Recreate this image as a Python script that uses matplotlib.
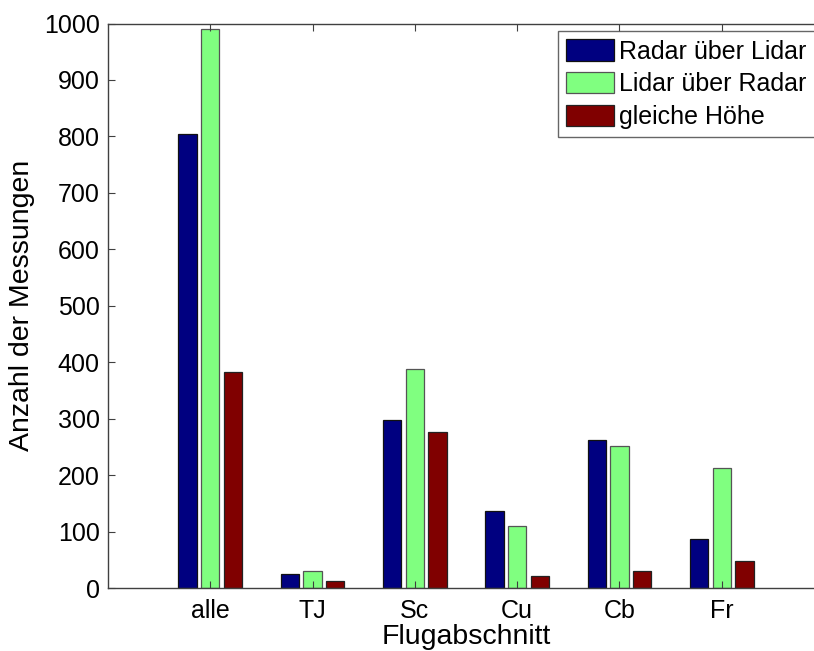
import numpy as np
import matplotlib
matplotlib.use('Agg')
import matplotlib.pyplot as plt

plt.rcParams['font.family'] = ['Liberation Sans', 'DejaVu Sans']

# Flugabschnitte und Anzahl der Messungen je Fall
abschnitte = ['alle', 'TJ', 'Sc', 'Cu', 'Cb', 'Fr']
radar_ueber_lidar = [804, 25, 297, 136, 262, 87]
lidar_ueber_radar = [990, 31, 388, 110, 252, 212]
gleiche_hoehe = [383, 12, 276, 22, 30, 48]

serien = [radar_ueber_lidar, lidar_ueber_radar, gleiche_hoehe]
namen = ['Radar über Lidar', 'Lidar über Radar', 'gleiche Höhe']
farben = ['#000080', '#80ff80', '#800000']
kanten = ['#111111', '#555555', '#222222']

fig = plt.figure(figsize=(8.14, 6.51), dpi=100)
ax = fig.add_axes([108 / 814, 63 / 651, 716 / 814, 564.5 / 651])

x = np.arange(1, len(abschnitte) + 1)
# gruppierte Balken wie bar(...,'grouped') in MATLAB
n = len(serien)
gruppe = n / (n + 1.5)
abstand = gruppe / n
breite = 0.8 * abstand
for i, (werte, name, farbe) in enumerate(zip(serien, namen, farben)):
    versatz = (i - (n - 1) / 2) * abstand
    ax.bar(x + versatz, werte, breite, color=farbe, edgecolor=kanten[i],
           linewidth=0.9, label=name)

ax.set_xlim(0, 7)
ax.set_ylim(0, 1000)
ax.set_xticks(x)
ax.set_xticklabels(abschnitte)
ax.set_yticks(np.arange(0, 1001, 100))

for s in ax.spines.values():
    s.set_color('#404040')
    s.set_linewidth(1.0)

ax.tick_params(axis='both', direction='in', length=5, width=0.8, color='#404040',
               labelsize=18, top=True, right=True)
ax.tick_params(axis='x', pad=8)
ax.tick_params(axis='y', pad=6)

ax.set_xlabel('Flugabschnitt', fontsize=20.5)
ax.xaxis.set_label_coords(0.5, -0.064)
ax.xaxis.label.set_va('top')
ax.set_ylabel('Anzahl der Messungen', fontsize=20.5, labelpad=6)

leg = fig.legend(loc='upper left', bbox_to_anchor=(558 / 814, 1 - 31 / 651),
                 fontsize=18, frameon=True, fancybox=False, borderaxespad=0,
                 handlelength=1.9, handleheight=0.95, handletextpad=0.22,
                 borderpad=0.33, labelspacing=0.33)
leg.get_frame().set_edgecolor('#404040')
leg.get_frame().set_linewidth(1.0)

fig.savefig('out.png', dpi=100)
